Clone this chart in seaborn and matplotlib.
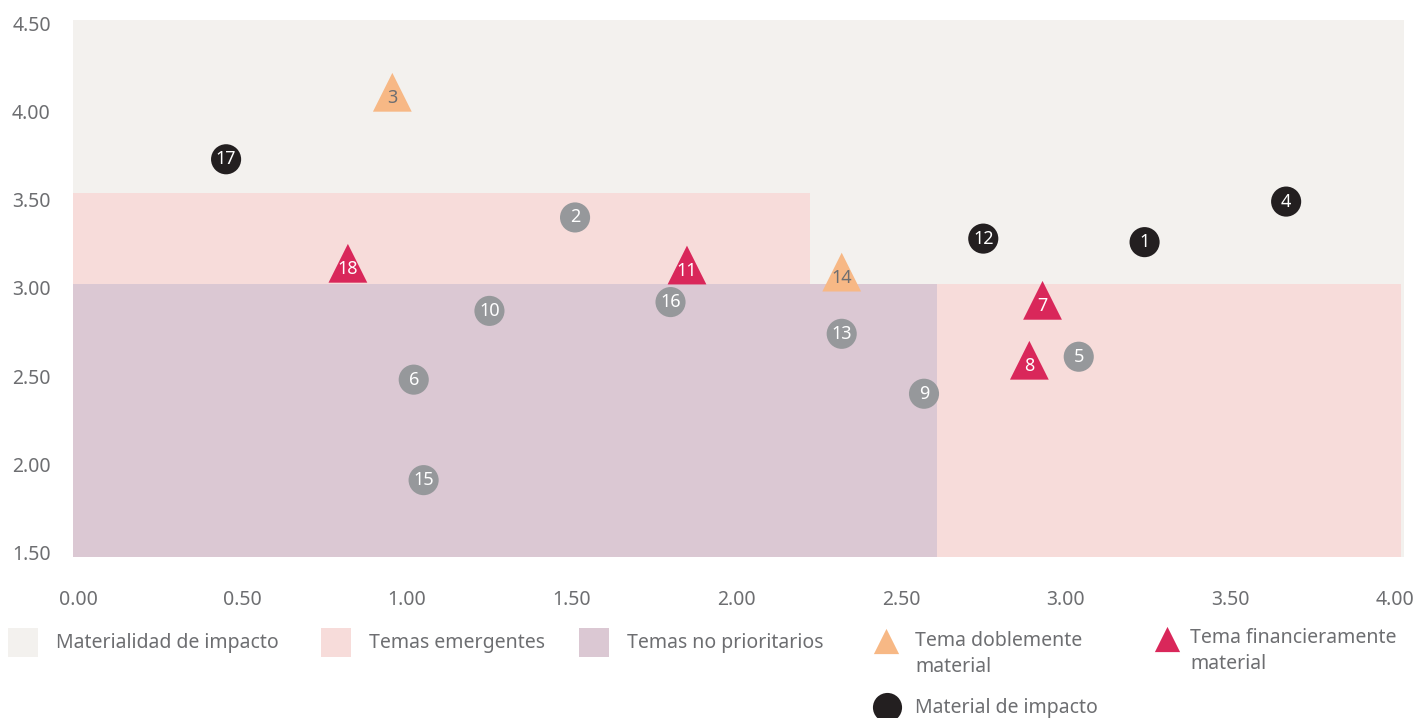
import matplotlib
matplotlib.use("Agg")
import matplotlib.pyplot as plt
from matplotlib.patches import Rectangle
import pandas as pd
import seaborn as sns

# temas (numero, eje x, eje y, tipo)
temas = [1, 2, 3, 4, 5, 6, 7, 8, 9, 10, 11, 12, 13, 14, 15, 16, 17, 18]
x_vals = [3.24, 1.51, 0.955, 3.67, 3.04, 1.02, 2.93, 2.89, 2.57, 1.25,
          1.85, 2.75, 2.32, 2.32, 1.05, 1.80, 0.45, 0.82]
y_vals = [3.26, 3.40, 4.11, 3.49, 2.61, 2.48, 2.93, 2.59, 2.40, 2.87,
          3.13, 3.28, 2.74, 3.09, 1.91, 2.92, 3.73, 3.14]
tipos = ["impacto", "no", "doble", "impacto", "no", "no", "financiero", "financiero", "no", "no",
         "financiero", "impacto", "no", "doble", "no", "no", "impacto", "financiero"]

x_ticks = [0.0, 0.5, 1.0, 1.5, 2.0, 2.5, 3.0, 3.5, 4.0]
y_ticks = [1.5, 2.0, 2.5, 3.0, 3.5, 4.0, 4.5]

# zonas de fondo
zonas = [
    ("Materialidad de impacto", (-0.015, 1.474), 4.043, 3.046, "#F3F1EE"),
    ("Temas emergentes", (-0.015, 3.023), 2.24, 0.516, "#F7DCDA"),
    ("Temas no prioritarios", (-0.015, 1.474), 2.625, 1.549, "#DBC8D3"),
    ("", (2.61, 1.474), 1.41, 1.549, "#F7DCDA"),
]

colores = {"impacto": "#231F20", "no": "#96989B", "doble": "#F7B885", "financiero": "#D9275A"}
marcas = {"impacto": "o", "no": "o", "doble": "^", "financiero": "^"}
tamanos = {"impacto": 470, "no": 470, "doble": 780, "financiero": 780}
txt_color = {"impacto": "white", "no": "white", "doble": "#6D6E71", "financiero": "white"}

gris = "#6D6E71"

sns.set_style("white")
plt.rcParams["font.family"] = ["Noto Sans", "DejaVu Sans"]

df = pd.DataFrame({"tema": temas, "x": x_vals, "y": y_vals, "tipo": tipos})

fig = plt.figure(figsize=(14.25, 7.18), dpi=100)
ax = fig.add_axes([73 / 1425, 1 - 557 / 718, 1331 / 1425, 537 / 718])

for nombre, xy, w, h, c in zonas:
    ax.add_patch(Rectangle(xy, w, h, facecolor=c, edgecolor="none", zorder=0))

sns.scatterplot(data=df, x="x", y="y", hue="tipo", style="tipo", size="tipo",
                palette=colores, markers=marcas, sizes=tamanos,
                linewidth=0, legend=False, ax=ax, zorder=3)

for _, r in df.iterrows():
    dy = -4 if marcas[r["tipo"]] == "^" else 0
    ax.annotate(str(r["tema"]), (r["x"], r["y"]), xytext=(0, dy), textcoords="offset points",
                ha="center", va="center", fontsize=13, color=txt_color[r["tipo"]], zorder=4)

ax.set_xlim(-0.015, 4.028)
ax.set_ylim(1.474, 4.52)
ax.set_xticks(x_ticks)
ax.set_yticks(y_ticks)
ax.set_xticklabels([f"{v:.2f}" for v in x_ticks])
ax.set_yticklabels([f"{v:.2f}" for v in y_ticks])
ax.tick_params(axis="x", length=0, pad=24, labelsize=14, labelcolor=gris)
ax.tick_params(axis="y", length=0, pad=16, labelsize=14, labelcolor=gris)
ax.set_xlabel("")
ax.set_ylabel("")
sns.despine(ax=ax, left=True, bottom=True)

# leyenda dibujada a mano en coordenadas de pixel
lg = fig.add_axes([0, 0, 1, 1], zorder=-1)
lg.set_xlim(0, 1425)
lg.set_ylim(718, 0)
lg.axis("off")
for (nombre, _, _, _, c), x0 in zip(zonas[:3], [8, 321, 579]):
    lg.add_patch(Rectangle((x0, 628), 30, 29, facecolor=c, edgecolor="none"))
    lg.text(x0 + 48, 643, nombre, ha="left", va="center", fontsize=14, color=gris)

lg.scatter([886], [641], marker="^", s=330, color=colores["doble"], linewidth=0)
lg.text(915, 654, "Tema doblemente\nmaterial", ha="left", va="center", fontsize=14,
        color=gris, linespacing=1.4)
lg.scatter([1167], [639], marker="^", s=330, color=colores["financiero"], linewidth=0)
lg.text(1190, 651, "Tema financieramente\nmaterial", ha="left", va="center", fontsize=14,
        color=gris, linespacing=1.4)
lg.scatter([887], [707], marker="o", s=440, color=colores["impacto"], linewidth=0)
lg.text(915, 708, "Material de impacto", ha="left", va="center", fontsize=14, color=gris)

fig.savefig("out.png", dpi=100)
